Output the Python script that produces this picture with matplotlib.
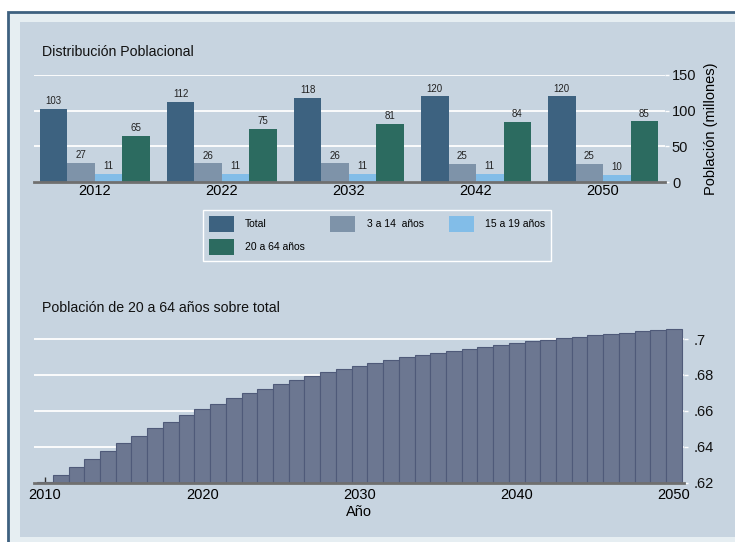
import matplotlib
matplotlib.use('Agg')
import matplotlib.pyplot as plt
from matplotlib.patches import Rectangle
from matplotlib.ticker import FuncFormatter
import numpy as np

plt.rcParams['font.family'] = ['Liberation Sans', 'DejaVu Sans']

##### DATA #####
years_top = ['2012', '2022', '2032', '2042', '2050']
series_names = ['Total', '3 a 14  años', '15 a 19 años', '20 a 64 años']
total = [103, 112, 118, 120, 120]
age_3_14 = [27, 26, 26, 25, 25]
age_15_19 = [11, 11, 11, 11, 10]
age_20_64 = [65, 75, 81, 84, 85]

years = list(range(2010, 2051))
share_20_64 = [0.6204, 0.6246, 0.6289, 0.6332, 0.6376, 0.6420, 0.6461, 0.6504,
               0.6539, 0.6576, 0.6609, 0.6641, 0.6671, 0.6698, 0.6724, 0.6748,
               0.6772, 0.6793, 0.6815, 0.6833, 0.6852, 0.6869, 0.6883, 0.6898,
               0.6911, 0.6924, 0.6935, 0.6946, 0.6957, 0.6968, 0.6978, 0.6987,
               0.6996, 0.7004, 0.7013, 0.7020, 0.7028, 0.7035, 0.7043, 0.7048,
               0.7054]
##### END DATA #####

bg = '#c7d4e0'
band = '#e6eef2'
frame = '#3e6180'
colors = ['#3d6280', '#7e93a9', '#82bde8', '#2c6b60']
axis_grey = '#6f6f6f'

W, H = 735, 542
fig = plt.figure(figsize=(W / 100, H / 100), dpi=100)
fig.patch.set_facecolor('white')

# outer frame and inner panel
fig.patches.append(Rectangle((8 / W, -0.05), 1.1, 1 - 12 / H + 0.05, transform=fig.transFigure,
                             facecolor=band, edgecolor=frame, lw=2, zorder=-2))
fig.patches.append(Rectangle((20 / W, 5 / H), 1.1, (537 - 22) / H, transform=fig.transFigure,
                             facecolor=bg, edgecolor='none', zorder=-1))

# ---- top chart ----
ax1 = fig.add_axes([34 / W, 1 - 182 / H, (665 - 34) / W, (182 - 75) / H])
ax1.set_facecolor('none')
x = np.arange(len(years_top))
w = 0.2165
bars = []
for i, vals in enumerate([total, age_3_14, age_15_19, age_20_64]):
    b = ax1.bar(x + (i - 1.5) * w, vals, w, color=colors[i], label=series_names[i], zorder=2)
    ax1.bar_label(b, padding=2, fontsize=7, color='#222222')
    bars.append(b)

ax1.set_xlim(-0.48, 4.488)
ax1.set_ylim(0, 150)
ax1.set_yticks([0, 50, 100, 150])
ax1.set_xticks(x)
ax1.set_xticklabels(years_top, fontsize=10.5)
ax1.tick_params(axis='x', length=0, pad=1.5)
ax1.yaxis.tick_right()
ax1.yaxis.set_label_position('right')
ax1.tick_params(axis='y', colors='white', length=3, width=1, pad=2, labelsize=10.5, labelcolor='#111111')
ax1.set_ylabel('Población (millones)', fontsize=10.5, labelpad=5)
ax1.yaxis.grid(True, color='white', lw=1.3)
ax1.set_axisbelow(True)
for s in ['top', 'left', 'right']:
    ax1.spines[s].set_visible(False)
ax1.spines['bottom'].set_color(axis_grey)
ax1.spines['bottom'].set_linewidth(2)
ax1.spines['bottom'].set_zorder(3)

fig.text(42 / W, 1 - 52 / H, 'Distribución Poblacional', fontsize=10.2, va='center', ha='left', color='#111111')

# legend, row-major order
order = [0, 3, 1, 2]
leg = fig.legend([bars[i] for i in order], [series_names[i] for i in order],
                 loc='upper left', bbox_to_anchor=(203 / W, 1 - 210 / H), ncol=3, fontsize=7.5,
                 handlelength=2.4, handleheight=2.0, handletextpad=1.06, columnspacing=2.45,
                 labelspacing=0.65, borderpad=0.58, borderaxespad=0, frameon=True, fancybox=False,
                 edgecolor='white', facecolor=bg, framealpha=1)
leg.get_frame().set_linewidth(1)

# ---- bottom chart ----
ax2 = fig.add_axes([34 / W, 1 - 483 / H, (684 - 34) / W, 156.6 / H])
ax2.set_facecolor('none')
ax2.bar(years, share_20_64, 1.0, color='#6c7791', edgecolor='#4f5a79', lw=0.8, zorder=2)
ax2.set_xlim(2009.3, 2050.64)
ax2.set_ylim(0.62, 0.707)
ax2.set_yticks([0.62, 0.64, 0.66, 0.68, 0.70])
ax2.yaxis.set_major_formatter(FuncFormatter(lambda v, p: f'{v:.2f}'.rstrip('0').lstrip('0')))
ax2.set_xticks([2010, 2020, 2030, 2040, 2050])
ax2.tick_params(axis='x', direction='in', length=4, width=1, color='#333333', pad=3.5, labelsize=10.5)
ax2.yaxis.tick_right()
ax2.tick_params(axis='y', colors='white', length=3, width=1, pad=4, labelsize=10.5, labelcolor='#111111')
ax2.set_xlabel('Año', fontsize=10.5, labelpad=2)
ax2.yaxis.grid(True, color='white', lw=1.3)
ax2.set_axisbelow(True)
for s in ['top', 'left', 'right']:
    ax2.spines[s].set_visible(False)
ax2.spines['bottom'].set_color(axis_grey)
ax2.spines['bottom'].set_linewidth(2)
ax2.spines['bottom'].set_zorder(3)

fig.text(42 / W, 1 - 308 / H, 'Población de 20 a 64 años sobre total', fontsize=10.2, va='center', ha='left',
         color='#111111')

fig.savefig('out.png', dpi=100, facecolor=fig.get_facecolor())
